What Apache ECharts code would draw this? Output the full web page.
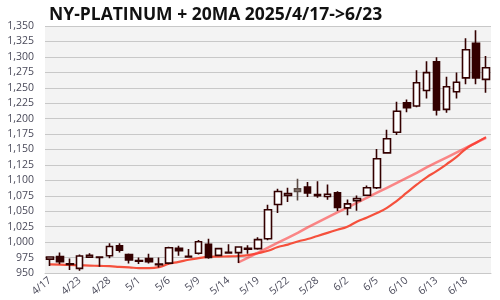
<!DOCTYPE html>
<html><head><meta charset="utf-8">
<script src="https://cdn.jsdelivr.net/npm/echarts@6/dist/echarts.min.js"></script>
<style>html,body{margin:0;padding:0;background:#fff}#c{width:500px;height:300px}</style>
</head><body><div id="c"></div>
<script>
const dates = ['4/17','4/21','4/22','4/23','4/24','4/25','4/28','4/29','4/30','5/1','5/2','5/5','5/6','5/7','5/8','5/9','5/12','5/13','5/14','5/15','5/16','5/19','5/20','5/21','5/22','5/23','5/27','5/28','5/29','5/30','6/2','6/3','6/4','6/5','6/6','6/9','6/10','6/11','6/12','6/13','6/16','6/17','6/18','6/20','6/23'];
// [open, close, low, high]
const ohlc = [
 [972.5,976,961.5,977],[976.5,968.5,964,983],[965,964,955,973.5],[957.5,977.5,953.5,980],
 [975.5,978.5,974.5,982],[976,975,960,976.5],[978,993,974,998],[994,987,983,998],
 [980,971,965.5,981.5],[970,969,964.5,975],[973.5,968.5,965.5,981],[964.5,963.5,959,975],
 [966,991,964,992.5],[990,986,978,994],[977,976,976,989],[982,1000.5,980,1003.5],
 [996.5,975,973,1005.5],[978.5,989.5,977,990.5],[983.5,982.5,981,996.5],[983,992,966,993],
 [990,988.5,981,995],[989.5,1004,987.5,1008],[1005.5,1052.5,1003,1060.5],[1061,1082,1047,1086.5],
 [1075.5,1078.5,1065,1088],[1086.5,1082,1067.5,1102.5],[1089,1079.5,1073,1097.5],[1077,1075,1072,1098.5],
 [1074,1077.5,1068.5,1093.5],[1080,1056,1050.5,1082.5],[1055.5,1062,1043.5,1069],[1067,1070.5,1051,1075.5],
 [1076,1088,1074.5,1091.5],[1088,1135,1086,1151],[1144.5,1167.5,1143.5,1182],[1178,1212,1173.5,1227.5],
 [1225.5,1217.5,1210.5,1231],[1220.5,1258,1218.5,1278.5],[1245.5,1274.5,1232.5,1293],[1292,1214,1205,1299.5],
 [1215,1251.5,1209.5,1268],[1243.5,1259,1232.5,1274.5],[1266,1311.5,1255.5,1330],[1322,1266,1255.5,1343],
 [1263.5,1282.5,1242,1301.5]
];
const grayIdx = [25];
const ma20Hist = [964,963.5,963,962.5,962,961.5,961,960,959,958,958,959.5,965,968,971.5,974,976,976.5,977,977.5,979,982,986,992,996,1001,1005,1010,1015,1020,1025,1033.5,1040,1047,1055.5,1067,1080,1093,1105,1115,1126,1137.5,1151.5,1161,1170];
const ma20 = ['-','-','-','-','-','-','-','-','-','-','-','-','-','-','-','-','-','-','-',967,975,983,991,999,1007,1015,1024,1032,1040,1048,1056,1064,1072,1080,1088,1096,1104,1112,1121,1129,1137,1145,1153,1161,1169];
const yTicks = {min:950, max:1350, step:25};

const candleData = ohlc.map((d,i)=> grayIdx.includes(i)
  ? {value:d, itemStyle:{color:'#8c7a72', color0:'#8c7a72', borderColor:'#5a4a44', borderColor0:'#5a4a44'}}
  : d);

const chart = echarts.init(document.getElementById('c'), null, {renderer:'canvas'});
chart.setOption({
  animation:false,
  title:{text:'NY-PLATINUM + 20MA 2025/4/17->6/23', left:44, top:1,
    textStyle:{fontFamily:'Open Sans', fontWeight:'bold', fontSize:17.5, color:'#111'}},
  grid:{left:45, right:9, top:26, bottom:27, show:true, backgroundColor:'#f3f3f3', borderWidth:0},
  xAxis:{type:'category', data:dates, boundaryGap:true,
    axisTick:{show:false}, axisLine:{show:true, lineStyle:{color:'#c8c8c8'}},
    axisLabel:{interval:2, rotate:40, fontSize:10.5, color:'#4a4a5a', margin:6, fontFamily:'Open Sans'}},
  yAxis:{type:'value', min:yTicks.min, max:yTicks.max, interval:yTicks.step,
    axisLine:{show:false}, axisTick:{show:false},
    splitLine:{lineStyle:{color:'#c8c8c8', width:1}},
    axisLabel:{fontSize:10.5, color:'#4a4a5a', margin:11, fontFamily:'Open Sans',
      formatter:v=>v.toLocaleString('en-US')}},
  series:[
    {type:'line', data:ma20Hist, symbol:'none', smooth:true, z:3,
      lineStyle:{color:'#f5503c', width:2.2}},
    {type:'line', data:ma20, symbol:'none', z:4,
      lineStyle:{color:'rgba(255,60,60,0.6)', width:2.5}},
    {type:'candlestick', data:candleData, barWidth:7, z:5,
      itemStyle:{color:'#ffffff', color0:'#330000', borderColor:'#330000', borderColor0:'#330000', borderWidth:1.6}}
  ]
});
</script></body></html>
